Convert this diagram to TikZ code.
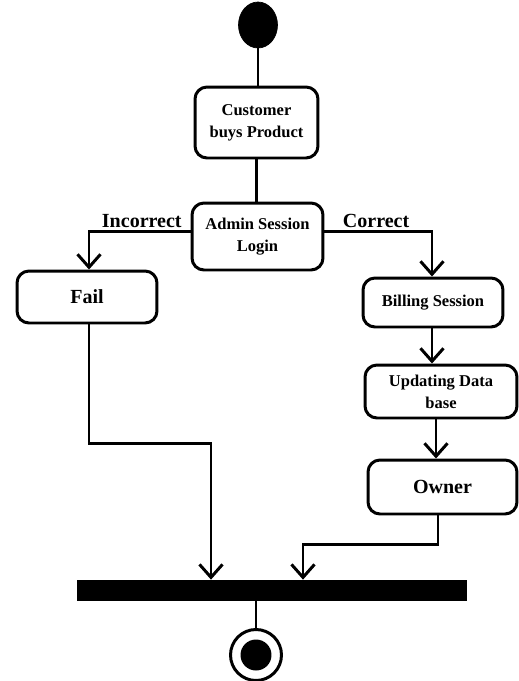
\documentclass[tikz,border=0pt]{standalone}
\usepackage{fontspec}
\setmainfont{Liberation Serif}
\usetikzlibrary{positioning,arrows.meta,shapes.geometric}

\begin{document}
\begin{tikzpicture}[
  x=0.02cm,y=-0.02cm,
  font=\bfseries\fontsize{9.4}{12.5}\selectfont,
  act/.style={draw,line width=1.7pt,rounded corners=0.24cm,align=center,inner sep=2pt},
  bigact/.style={act,font=\bfseries\fontsize{11.4}{13}\selectfont},
  flow/.style={line width=1.7pt,-{Straight Barb[length=0.26cm,width=0.46cm,line width=1.7pt]}},
  link/.style={line width=1.7pt},
  lbl/.style={font=\bfseries\fontsize{11.4}{13}\selectfont,inner sep=1pt,anchor=south}]
\useasboundingbox (0,0) rectangle (519,681);

% ================= START =================
\node[draw,fill=black,ellipse,minimum width=0.78cm,minimum height=0.92cm,inner sep=0pt] (start) at (258,25) {};
\node[act,minimum width=2.46cm,minimum height=1.42cm] (buy) at (256.5,122.5) {Customer\\buys Product};
\node[act,minimum width=2.62cm,minimum height=1.34cm] (admin) at (257.5,236.5) {Admin Session\\Login};

\draw[link] (start) -- (start |- buy.north);
\draw[link] (buy.south) -- (buy.south |- admin.north);

% ================= BRANCHES =================
\node[bigact,minimum width=2.8cm,minimum height=1.04cm] (fail) at (87,297) {Fail};
\node[act,minimum width=2.8cm,minimum height=0.98cm] (bill) at (433,302.5) {Billing Session};
\node[act,minimum width=3.04cm,minimum height=1.06cm] (update) at (441,391.5) {Updating Data\\base};
\node[bigact,minimum width=2.98cm,minimum height=1.08cm] (owner) at (442.5,487) {Owner};

\coordinate (leftturn) at (89,231);
\coordinate (rightturn) at (432,231);
\draw[flow] (admin.west |- leftturn) -- node[lbl,pos=0.48]{Incorrect} (leftturn) -- (leftturn |- fail.north);
\draw[flow] (admin.east |- rightturn) -- node[lbl,pos=0.48]{Correct} (rightturn) -- (rightturn |- bill.north);
\draw[flow] (rightturn |- bill.south) -- (rightturn |- update.north);
\coordinate (ownerline) at (436,0);
\draw[flow] (ownerline |- update.south) -- (ownerline |- owner.north);

% ================= JOIN BAR =================
\node[fill=black,minimum width=7.8cm,minimum height=0.42cm,inner sep=0pt] (join) at (272,590.5) {};
\coordinate (failturn) at (89,443);
\coordinate (failin) at (211,0);
\coordinate (ownerturn) at (438,544);
\coordinate (ownerin) at (303,0);
\draw[flow] (failturn |- fail.south) -- (failturn) -| (failin |- join.north);
\draw[flow] (ownerturn |- owner.south) -- (ownerturn) -| (ownerin |- join.north);

% ================= END =================
\node[draw,circle,line width=1.7pt,minimum size=1.02cm,inner sep=0pt] (stop) at (256,655) {};
\node[fill=black,circle,minimum size=0.62cm,inner sep=0pt] (stopdot) at (stop) {};
\draw[link] (stop.north |- join.south) -- (stop.north);
\end{tikzpicture}
\end{document}
